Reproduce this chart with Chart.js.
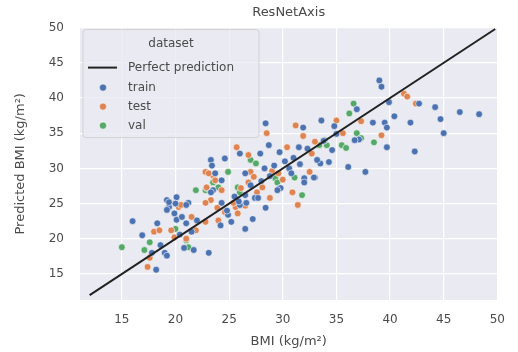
<!DOCTYPE html>
<html>
<head>
<meta charset="utf-8">
<script src="https://cdn.jsdelivr.net/npm/chart.js@4/dist/chart.umd.min.js"></script>
<style>
  html, body { margin: 0; padding: 0; background: #fff; }
  #wrap { width: 518px; height: 352px; }
</style>
</head>
<body>
<div id="wrap"><canvas id="bmiChart" width="518" height="352"></canvas></div>
<script>
// BMI vs predicted BMI, one list of [true, predicted] pairs per split
const trainPoints = [
  [39.0,42.5],[39.2,41.6],[42.7,39.2],[44.2,38.7],[46.5,38.0],[48.3,37.7],[44.7,37.0],[45.0,35.0],
  [42.3,32.4],[41.9,36.5],[40.4,37.4],[39.9,39.4],[39.5,36.5],[39.7,35.8],[39.7,33.0],[38.4,36.5],
  [36.9,38.4],[33.6,36.8],[37.1,34.1],[36.7,34.0],[34.6,32.6],[36.1,30.2],[37.7,29.5],[33.5,30.7],
  [34.3,30.9],[28.4,36.4],[31.9,35.8],[28.7,33.3],[27.9,32.1],[26.0,32.1],[29.7,32.3],[23.3,31.2],
  [23.4,30.4],[24.6,31.4],[33.2,31.2],[31.5,33.0],[28.3,30.0],[30.6,30.0],[32.0,28.6],[33.0,28.7],
  [26.5,29.3],[23.5,26.9],[29.7,27.2],[28.4,24.4],[24.3,25.1],[27.4,25.8],[26.5,26.2],[16.0,22.5],
  [16.9,20.5],[18.2,15.6],[19.0,18.0],[19.2,17.6],[18.3,22.2],[19.2,25.5],[19.4,24.5],[20.1,25.9],
  [19.9,23.6],[20.1,22.7],[20.6,23.1],[21.0,22.2],[20.8,18.7],[21.7,18.4],[23.1,18.0],[21.2,25.1],
  [25.2,22.4],[23.7,29.3],[26.5,21.4],[27.2,22.8],[26.6,25.1],[26.0,24.8],[24.2,21.9],[32.0,28.0],
  [32.9,28.7],[29.8,27.2],[29.5,26.9],[27.7,25.8],[19.4,25.2],[20.0,25.0],[19.2,24.1],[21.0,24.8],
  [24.9,23.4],[23.3,26.6],[24.3,28.3],[30.2,31.0],[31.0,31.5],[32.3,32.8],[33.8,33.9],[35.0,34.9],
  [34.8,36.0],[22.0,22.6],[21.5,21.0],[20.4,20.6],[25.5,26.0],[27.0,27.6],[28.8,28.9],[29.2,30.4],
  [17.8,18.0],[18.6,19.1],[24.8,24.0],[25.9,25.3],[28.0,28.2],[30.8,29.3],[31.6,30.6]
];
const testPoints = [
  [41.3,40.6],[41.6,40.2],[42.4,39.2],[39.2,34.7],[37.3,36.7],[35.0,36.8],[35.6,35.0],[31.2,36.1],
  [28.5,35.0],[31.9,34.6],[30.4,33.0],[25.7,33.0],[26.8,31.9],[32.7,32.1],[22.8,29.5],[23.5,29.0],
  [27.0,29.5],[32.5,29.5],[26.8,28.0],[22.9,27.3],[24.3,26.9],[28.1,27.3],[30.9,26.6],[31.4,24.8],
  [23.3,25.5],[25.6,24.5],[17.6,17.3],[17.4,16.0],[18.0,21.0],[18.5,21.2],[20.3,24.5],[19.6,21.2],
  [19.9,20.2],[21.5,23.1],[21.9,21.2],[22.8,22.4],[24.0,22.6],[28.8,25.8],[24.6,23.8],[25.8,23.6],
  [23.1,29.3],[23.7,28.3],[20.5,24.8],[22.8,25.1],[25.4,25.1],[26.1,27.2],[29.0,29.6],[30.0,28.4],
  [33.0,33.8],[27.6,26.6],[21.0,20.0],[23.9,24.4],[26.5,24.7],[29.6,29.3],[27.3,28.8]
];
const valPoints = [
  [36.6,39.2],[36.2,37.8],[36.9,35.0],[35.5,33.3],[35.9,32.9],[34.1,33.3],[33.4,33.3],[38.5,33.7],
  [27.0,31.2],[27.5,30.7],[24.9,29.5],[31.1,28.7],[29.3,28.6],[22.8,26.9],[25.8,27.3],[31.8,26.2],
  [15.0,18.8],[17.6,19.5],[17.1,18.4],[21.0,19.8],[21.9,26.9],[24.0,27.3],[29.5,28.0],[23.5,28.0],
  [22.9,27.2],[21.2,18.8],[37.3,34.3],[33.9,34.0],[26.0,26.6],[20.0,21.4]
];
// ends of the y = x reference line
const perfectLine = [12.0, 49.8];
const xTicks = [15, 20, 25, 30, 35, 40, 45, 50];
const yTicks = [15, 20, 25, 30, 35, 40, 45, 50];

const colors = { train: '#4C72B0', test: '#DD8452', val: '#55A868', line: '#222222' };
const textColor = '#4a4a4a';
const fontFamily = '"DejaVu Sans", sans-serif';

function toXY(pairs) {
  return pairs.map(function(p) { return { x: p[0], y: p[1] }; });
}

function scatterSet(label, pairs, color) {
  return {
    type: 'scatter',
    label: label,
    data: toXY(pairs),
    backgroundColor: color,
    borderColor: '#ffffff',
    borderWidth: 0.6,
    pointRadius: 3.4,
    pointHoverRadius: 3.4,
    order: 1
  };
}

// grey panel behind the plot, like a seaborn darkgrid axes
const panelBg = {
  id: 'panelBg',
  beforeDraw(chart) {
    const ctx = chart.ctx, a = chart.chartArea;
    ctx.save();
    ctx.fillStyle = '#ffffff';
    ctx.fillRect(0, 0, chart.width, chart.height);
    ctx.fillStyle = '#EAEAF2';
    ctx.fillRect(a.left, a.top, a.right - a.left, a.bottom - a.top);
    ctx.restore();
  }
};

// legend box in the upper left corner of the plot
const insideLegend = {
  id: 'insideLegend',
  afterDatasetsDraw(chart) {
    const ctx = chart.ctx, a = chart.chartArea;
    const x0 = a.left + 3, y0 = a.top + 2, w = 176, h = 108;
    ctx.save();
    ctx.beginPath();
    ctx.roundRect(x0, y0, w, h, 3);
    ctx.fillStyle = 'rgba(234,234,242,0.8)';
    ctx.fill();
    ctx.strokeStyle = 'rgba(204,204,204,0.8)';
    ctx.lineWidth = 1;
    ctx.stroke();

    ctx.font = '12px ' + fontFamily;
    ctx.fillStyle = textColor;
    ctx.textBaseline = 'middle';
    ctx.textAlign = 'center';
    ctx.fillText('dataset', x0 + w / 2, y0 + 14);

    ctx.textAlign = 'left';
    const textX = x0 + 45;
    // line entry
    ctx.strokeStyle = colors.line;
    ctx.lineWidth = 2;
    ctx.beginPath();
    ctx.moveTo(x0 + 5, y0 + 38);
    ctx.lineTo(x0 + 34, y0 + 38);
    ctx.stroke();
    ctx.fillText('Perfect prediction', textX, y0 + 38);

    const entries = [['train', colors.train], ['test', colors.test], ['val', colors.val]];
    entries.forEach(function(e, i) {
      const y = y0 + 58 + i * 19;
      ctx.beginPath();
      ctx.arc(x0 + 20, y, 3.6, 0, Math.PI * 2);
      ctx.fillStyle = e[1];
      ctx.fill();
      ctx.strokeStyle = '#ffffff';
      ctx.lineWidth = 0.6;
      ctx.stroke();
      ctx.fillStyle = textColor;
      ctx.fillText(e[0], textX, y);
    });
    ctx.restore();
  }
};

function axis(title, ticks, min, max, titlePadding, tickPadding, fitFn) {
  return {
    type: 'linear',
    min: min,
    max: max,
    afterBuildTicks(scale) {
      scale.ticks = ticks.map(function(v) { return { value: v }; });
    },
    afterFit: fitFn,
    grid: { color: '#ffffff', lineWidth: 1.2, drawTicks: false },
    border: { display: false },
    ticks: {
      color: textColor,
      padding: tickPadding,
      font: { family: fontFamily, size: 12 }
    },
    title: {
      display: true,
      text: title,
      color: textColor,
      padding: titlePadding,
      font: { family: fontFamily, size: 13 }
    }
  };
}

const ctx = document.getElementById('bmiChart');
new Chart(ctx, {
  data: {
    datasets: [
      {
        type: 'line',
        label: 'Perfect prediction',
        data: perfectLine.map(function(v) { return { x: v, y: v }; }),
        borderColor: colors.line,
        borderWidth: 2,
        pointRadius: 0,
        fill: false,
        order: 0
      },
      scatterSet('train', trainPoints, colors.train),
      scatterSet('test', testPoints, colors.test),
      scatterSet('val', valPoints, colors.val)
    ]
  },
  options: {
    responsive: false,
    animation: false,
    events: [],
    layout: { padding: { left: 0, right: 16, top: 0, bottom: 0 } },
    scales: {
      x: axis('BMI (kg/m²)', xTicks, 11.1, 50, { top: 0, bottom: 3 }, 13,
        function(scale) { scale.height = 52; }),
      y: axis('Predicted BMI (kg/m²)', yTicks, 11.3, 50, { top: 13, bottom: 0 }, 16,
        function(scale) { scale.width = 80; })
    },
    plugins: {
      legend: { display: false },
      tooltip: { enabled: false },
      title: {
        display: true,
        text: 'ResNetAxis',
        fullSize: false,
        color: textColor,
        padding: { top: 5, bottom: 7 },
        font: { family: fontFamily, size: 13, weight: 'normal' }
      }
    }
  },
  plugins: [panelBg, insideLegend]
});
</script>
</body>
</html>
